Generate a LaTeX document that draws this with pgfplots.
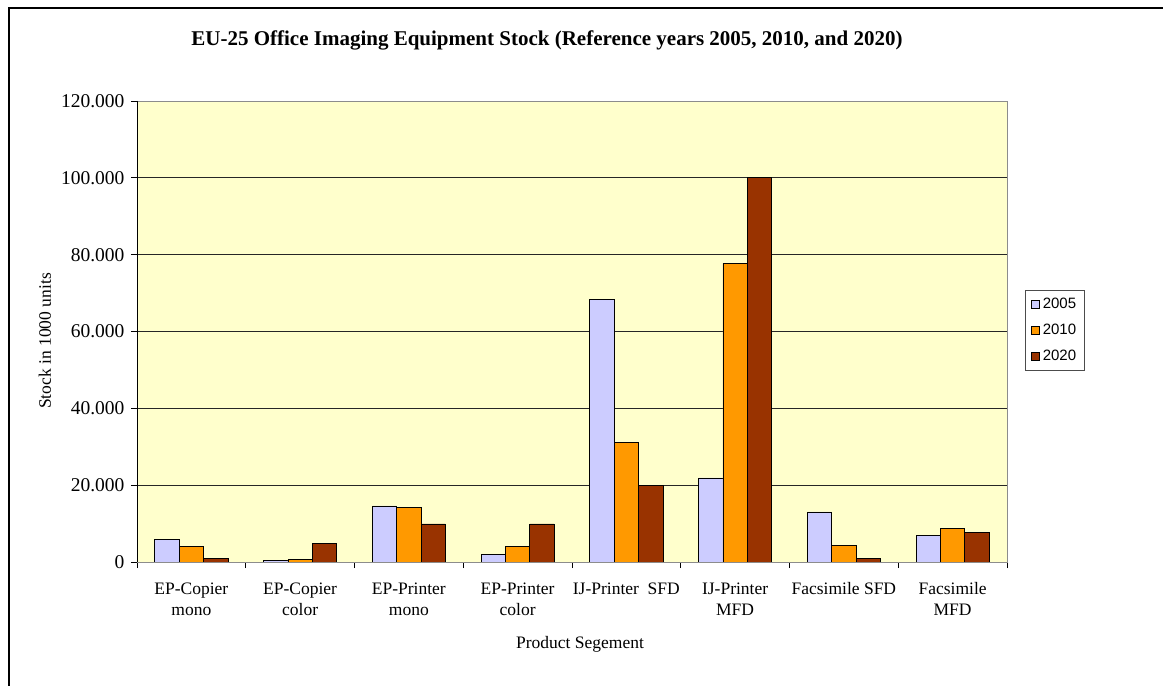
\documentclass[border=0pt]{standalone}
\usepackage{pgfplots}
\pgfplotsset{compat=1.18}
\usepackage{fontspec}
\setmainfont{Liberation Serif}
\newfontfamily\legfont{Liberation Sans}
\definecolor{cA}{HTML}{CCCCFF}
\definecolor{cB}{HTML}{FF9900}
\definecolor{cC}{HTML}{993300}
\definecolor{bgY}{HTML}{FFFFCC}
\begin{document}
\begin{tikzpicture}
\path[use as bounding box] (0pt,0pt) rectangle (1163pt,686pt);
\draw[line width=2pt] (9pt,-5pt) -- (9pt,678pt) -- (1170pt,678pt);
\node[font=\bfseries\fontsize{21}{24}\selectfont] at (547pt,646pt) {EU-25 Office Imaging Equipment Stock (Reference years 2005, 2010, and 2020)};
\begin{axis}[
  at={(137pt,124pt)}, anchor=south west,
  width=870pt, height=461pt, scale only axis,
  xmin=-0.5, xmax=7.5, ymin=0, ymax=120000,
  xtick={-0.5,0.5,...,7.5},
  x tick label as interval,
  xticklabels={{EP-Copier\\mono},{EP-Copier\\color},{EP-Printer\\mono},{EP-Printer\\color},{IJ-Printer\ \ SFD},{IJ-Printer\\MFD},{Facsimile SFD},{Facsimile\\MFD}},
  xticklabel style={align=center, font=\fontsize{17.5}{21}\selectfont, yshift=-11pt},
  ytick={0,20000,...,120000},
  scaled y ticks=false,
  yticklabel style={font=\fontsize{19.5}{21}\selectfont, xshift=-3pt,
    /pgf/number format/fixed, /pgf/number format/1000 sep={.},
    /pgf/number format/assume math mode=true},
  tick align=outside, tick pos=left, major tick length=6pt,
  tick style={black, line width=0.8pt},
  ymajorgrids, grid style={black!85, line width=0.7pt},
  axis background/.style={fill=bgY},
  axis line style={black!45, line width=0.8pt},
  ybar=0pt, bar width=0.224,
  legend style={at={(1.0207,0.59)}, anchor=north west,
    font=\legfont\fontsize{15}{18}\selectfont, draw=black!70, fill=white,
    inner xsep=6pt, inner ysep=6pt, row sep=10pt,
    /tikz/every odd column/.append style={column sep=1pt}},
  legend cell align=left,
]
\addplot[fill=cA, draw=black, line width=0.7pt,
  legend image code/.code={\draw[fill=cA, draw=black, line width=0.6pt] (0pt,-4pt) rectangle (8pt,4pt);}]
  coordinates {(0,5900) (1,300) (2,14600) (3,2000) (4,68300) (5,21900) (6,13050) (7,7000)};
\addplot[fill=cB, draw=black, line width=0.7pt,
  legend image code/.code={\draw[fill=cB, draw=black, line width=0.6pt] (0pt,-4pt) rectangle (8pt,4pt);}]
  coordinates {(0,4100) (1,700) (2,14200) (3,4000) (4,31200) (5,77700) (6,4400) (7,8800)};
\addplot[fill=cC, draw=black, line width=0.7pt,
  legend image code/.code={\draw[fill=cC, draw=black, line width=0.6pt] (0pt,-4pt) rectangle (8pt,4pt);}]
  coordinates {(0,900) (1,4900) (2,9900) (3,9900) (4,20000) (5,100000) (6,900) (7,7800)};
\legend{2005,2010,2020}
\draw[black, line width=0.9pt] (rel axis cs:0,1) -- (rel axis cs:0,0) -- (rel axis cs:1,0);
\end{axis}
\node[rotate=90, font=\fontsize{17.5}{21}\selectfont] at (45pt,345pt) {Stock in 1000 units};
\node[font=\fontsize{17.5}{21}\selectfont] at (580pt,42pt) {Product Segement};
\end{tikzpicture}
\end{document}
